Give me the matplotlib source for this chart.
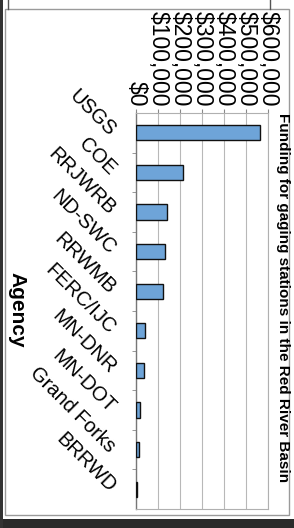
import matplotlib
matplotlib.use("Agg")
import matplotlib.pyplot as plt
from matplotlib.patches import Rectangle
from matplotlib.lines import Line2D

agencies = ["USGS", "COE", "RRJWRB", "ND-SWC", "RRWMB", "FERC/IJC",
            "MN-DNR", "MN-DOT", "Grand Forks", "BRRWD"]
funding = [564000, 215000, 139000, 130000, 122000, 39000, 36000, 18000, 15000, 5000]
tick_values = [0, 100000, 200000, 300000, 400000, 500000, 600000]
tick_labels = ["$0", "$100,000", "$200,000", "$300,000", "$400,000", "$500,000", "$600,000"]
title = "Funding for gaging stations in the Red River Basin"
axis_label = "Agency"

plt.rcParams['font.family'] = ['Liberation Sans', 'DejaVu Sans']

W, H = 294, 528
fig = plt.figure(figsize=(W / 100, H / 100), dpi=100)
fig.patch.set_facecolor("white")

# scan frame decorations
fig.add_artist(Rectangle((5 / W, 1 - 515 / H), 284 / W, 506 / H, transform=fig.transFigure,
                         fill=False, edgecolor="#9a9a9a", linewidth=1.0))
fig.add_artist(Rectangle((0, 0), 1, 9 / H, transform=fig.transFigure,
                         facecolor="#2a2a2a", edgecolor="none"))
fig.add_artist(Rectangle((0, 0), 3 / W, 1, transform=fig.transFigure,
                         facecolor="#333333", edgecolor="none"))
fig.add_artist(Line2D([8 / W, 8 / W], [1, 1 - 9 / H], transform=fig.transFigure, color="#555555", lw=1))
fig.add_artist(Line2D([270 / W, 270 / W], [1, 1 - 9 / H], transform=fig.transFigure, color="#555555", lw=1))

ax = fig.add_axes([136 / W, 1 - 509 / H, 132.3 / W, 396 / H])
y = list(range(len(agencies)))
ax.barh(y, funding, height=0.38, color="#6ea4d8", edgecolor="#111111", linewidth=1.0, zorder=3)
ax.set_ylim(len(agencies) - 0.5, -0.5)
ax.set_xlim(0, 600000)

ax.xaxis.tick_top()
ax.set_xticks(tick_values)
ax.set_xticklabels(tick_labels, rotation=270, ha="center", va="bottom", fontsize=16.5)
ax.tick_params(axis="x", length=3, color="#888888", pad=2)
ax.grid(axis="x", color="#b8b8b8", linewidth=0.8, zorder=0)

ax.set_yticks(y)
ax.set_yticklabels(agencies, fontsize=14.5, rotation=-45, rotation_mode="anchor",
                   ha="right", va="center")
ax.tick_params(axis="y", length=0, pad=17)
ax.set_yticks([i + 0.5 for i in range(len(agencies) - 1)], minor=True)
ax.tick_params(axis="y", which="minor", length=3, color="#888888")

for s in ["top", "right", "bottom"]:
    ax.spines[s].set_color("#b0b0b0")
    ax.spines[s].set_linewidth(0.8)
ax.spines["left"].set_color("#777777")
ax.spines["left"].set_linewidth(1.0)

fig.text(283 / W, 1 - 298 / H, title, rotation=270, ha="center", va="center",
         fontsize=11.0, fontweight="bold")
fig.text(17 / W, 1 - 310 / H, axis_label, rotation=270, ha="center", va="center",
         fontsize=15, fontweight="bold")

fig.savefig("out.png", dpi=100)
